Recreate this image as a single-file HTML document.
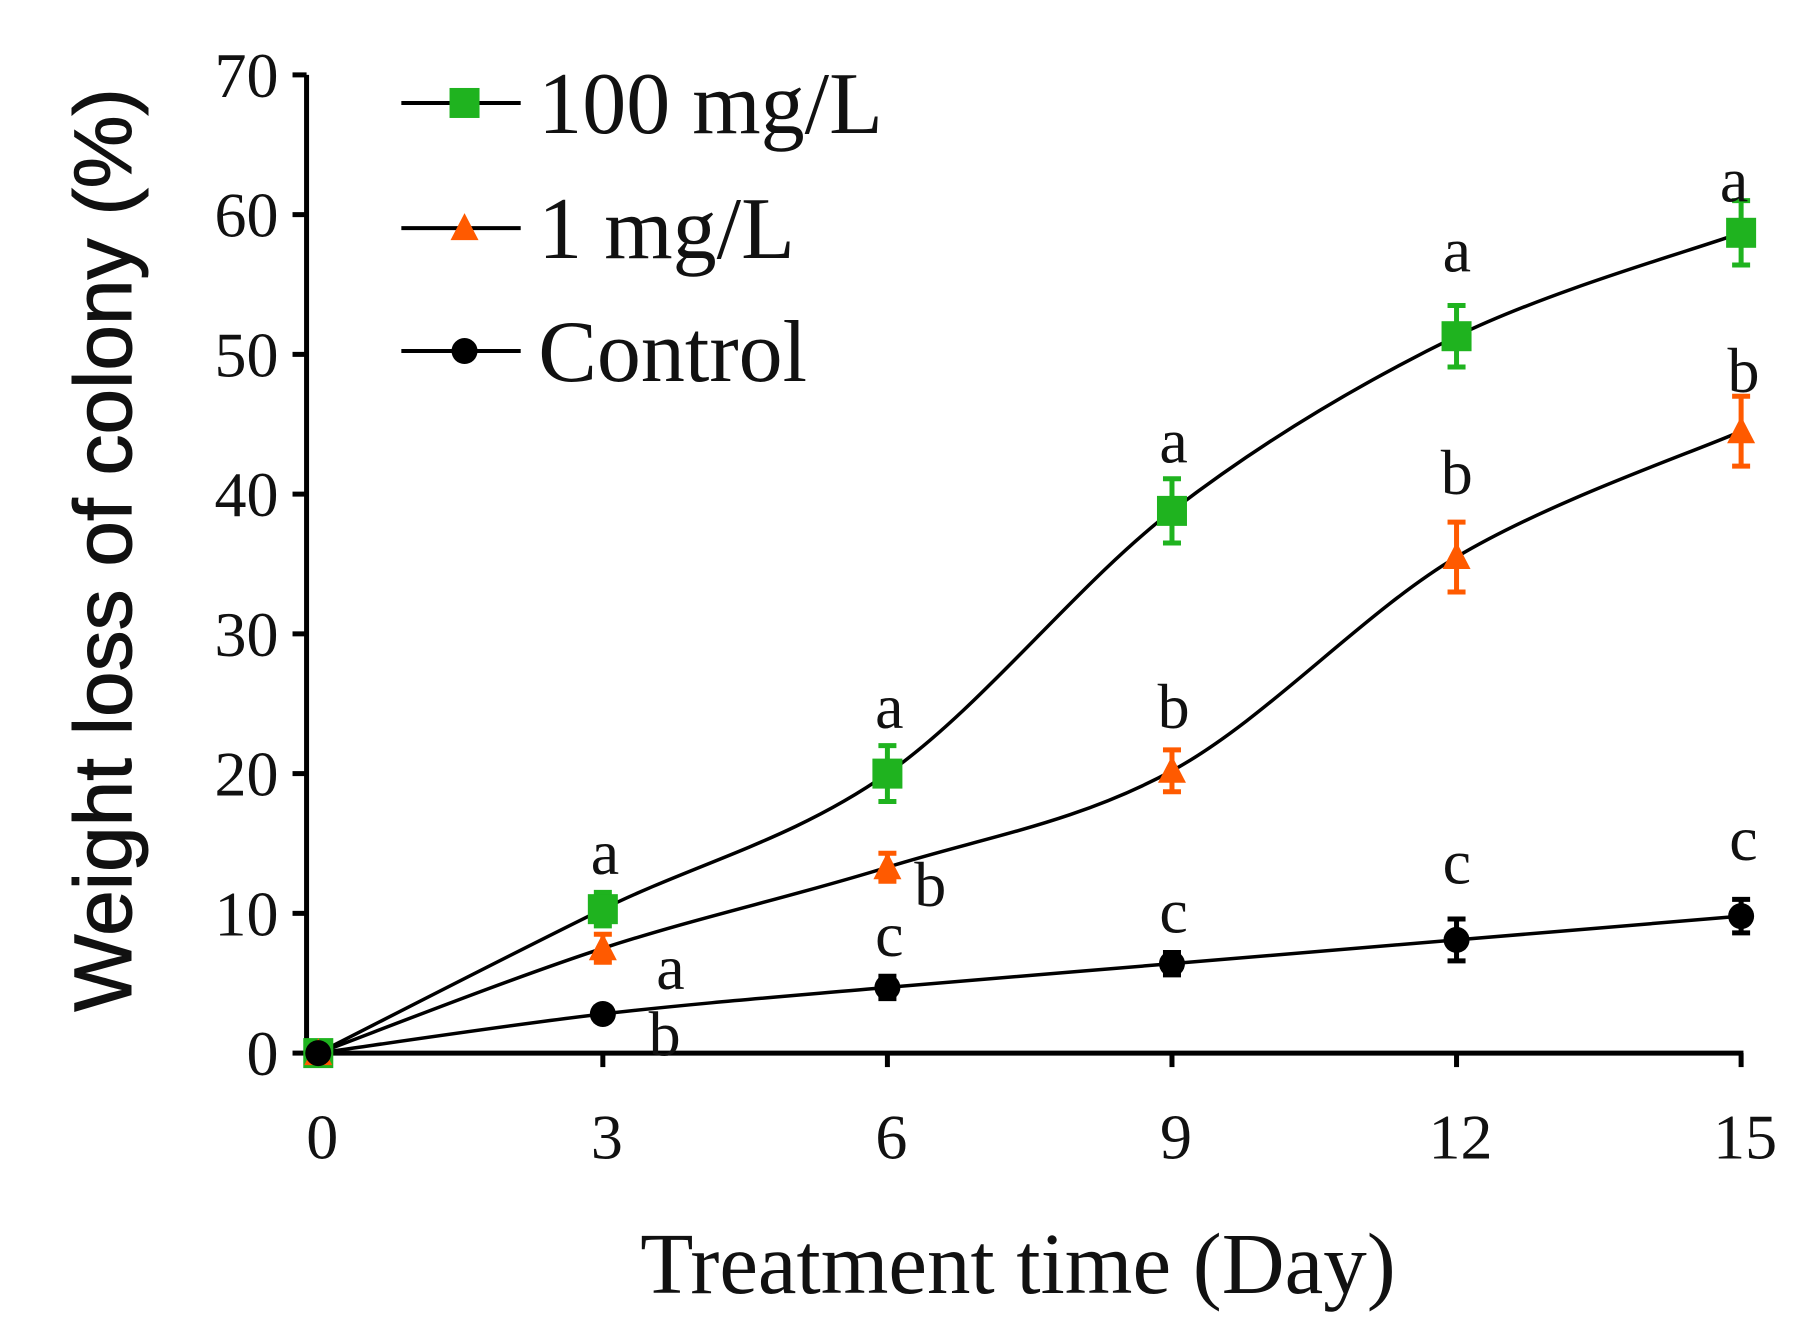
<!DOCTYPE html>
<html><head><meta charset="utf-8"><style>
html,body{margin:0;padding:0;background:#fff;}
svg text{font-family:"Liberation Serif",serif;fill:#111;}
</style></head><body>
<svg id="c" width="1816" height="1317" viewBox="0 0 1816 1317" xmlns="http://www.w3.org/2000/svg"></svg>
<script>
const S=1816/1552, svg=document.getElementById('c');
let h='';
const X=d=>(272+d/15*(1488-272))*S, Y=v=>(900-v/70*(900-64))*S;
h+=`<line x1="${262*S}" y1="${Y(0)}" x2="${1490*S}" y2="${Y(0)}" stroke="#000" stroke-width="5"/>`;
h+=`<line x1="${262*S}" y1="${Y(0)}" x2="${262*S}" y2="${Y(70)}" stroke="#000" stroke-width="5"/>`;
for(let v=0;v<=70;v+=10){h+=`<line x1="${250*S}" x2="${262*S}" y1="${Y(v)}" y2="${Y(v)}" stroke="#000" stroke-width="5"/>`;
h+=`<text x="${238*S}" y="${Y(v)+22}" font-size="64" text-anchor="end">${v}</text>`;}
for(let d=0;d<=15;d+=3){ if(d>0)h+=`<line x1="${X(d)}" x2="${X(d)}" y1="${Y(0)}" y2="${Y(0)+14}" stroke="#000" stroke-width="5"/>`;
h+=`<text x="${X(d)+4}" y="${990*S}" font-size="64" text-anchor="middle">${d}</text>`;}
h+=`<text x="${870*S}" y="${1105*S}" font-size="87" text-anchor="middle">Treatment  time  (Day)</text>`;
h+=`<text transform="translate(${112*S},${470*S}) rotate(-90)" font-size="82" text-anchor="middle" style="font-family:'Liberation Sans',sans-serif" stroke="#111" stroke-width="1">Weight loss of colony (%)</text>`;
const days=[0,3,6,9,12,15];
const ser=[
 {c:'#1fb31f',v:[0,10.3,20,38.8,51.3,58.7],e:[0,1.2,2,2.3,2.2,2.3],m:'sq'},
 {c:'#ff5a00',v:[0,7.5,13.3,20.2,35.5,44.5],e:[0,1,1,1.5,2.5,2.5],m:'tri'},
 {c:'#000',v:[0,2.8,4.7,6.4,8.1,9.8],e:[0,0.5,0.8,0.8,1.5,1.2],m:'ci'}];
function path(p){let d=`M${p[0][0]},${p[0][1]}`;for(let i=0;i<p.length-1;i++){const p0=p[i-1]||p[i],p1=p[i],p2=p[i+1],p3=p[i+2]||p2;
d+=` C${p1[0]+(p2[0]-p0[0])/6},${p1[1]+(p2[1]-p0[1])/6} ${p2[0]-(p3[0]-p1[0])/6},${p2[1]-(p3[1]-p1[1])/6} ${p2[0]},${p2[1]}`;}return d;}
function mk(m,x,y,c){if(m=='sq')return `<rect x="${x-15}" y="${y-15}" width="30" height="30" fill="${c}"/>`;
if(m=='tri')return `<polygon points="${x},${y-15} ${x+14},${y+12} ${x-14},${y+12}" fill="${c}"/>`;
return `<circle cx="${x}" cy="${y}" r="13" fill="${c}"/>`;}
ser.forEach(s=>{const p=days.map((d,i)=>[X(d),Y(s.v[i])]);
h+=`<path d="${path(p)}" fill="none" stroke="#000" stroke-width="3.5"/>`;});
ser.forEach(s=>{days.forEach((d,i)=>{const x=X(d),y=Y(s.v[i]);
if(s.e[i]>0){const t=Y(s.v[i]+s.e[i]),b=Y(s.v[i]-s.e[i]);h+=`<path d="M${x},${t}V${b}M${x-9},${t}H${x+9}M${x-9},${b}H${x+9}" stroke="${s.c}" stroke-width="5"/>`;}
h+=mk(s.m,x,y,s.c);});});
[[88,'100 mg/L',0],[195,'1 mg/L',1],[300,'Control',2]].forEach(([yy,t,i])=>{const y=yy*S;
h+=`<line x1="${343*S}" x2="${445*S}" y1="${y}" y2="${y}" stroke="#000" stroke-width="4"/>`;
h+=mk(ser[i].m,397*S,y,ser[i].c);
h+=`<text x="${460*S}" y="${y+30}" font-size="88">${t}</text>`;});
[[517,730,'a'],[760,605,'a'],[1003,378,'a'],[1245,215,'a'],[1482,155,'a'],
 [795,757,'b'],[1003,605,'b'],[1245,405,'b'],[1490,318,'b'],[573,828,'a'],
 [568,885,'b'],[760,800,'c'],[1003,780,'c'],[1245,738,'c'],[1490,718,'c']].forEach(([x,y,t])=>{
h+=`<text x="${x*S}" y="${y*S+20}" font-size="64" text-anchor="middle">${t}</text>`;});
svg.innerHTML=h;
</script>
</body></html>
